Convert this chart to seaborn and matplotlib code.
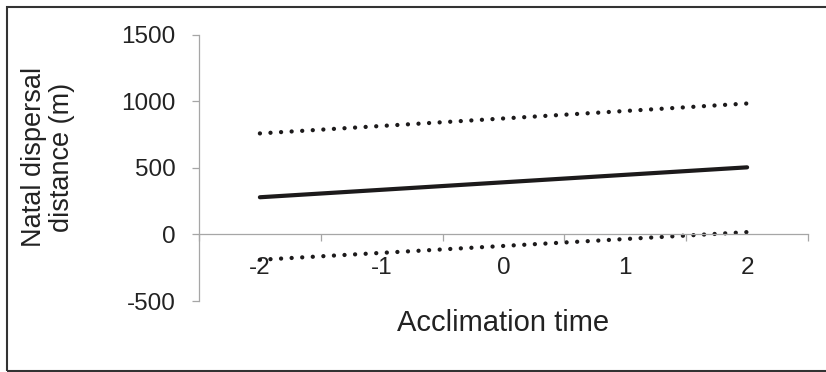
import matplotlib
matplotlib.use("Agg")
import matplotlib.pyplot as plt
import seaborn as sns
import pandas as pd
from matplotlib.patches import Rectangle

# Data
categories = [-2, -1, 0, 1, 2]
x_ends = [-2, 2]
fit_line = [280, 505]
upper_line = [760, 985]
lower_line = [-190, 18]
y_ticks = [-500, 0, 500, 1000, 1500]

sns.set_theme(style="white")
plt.rcParams['font.family'] = ['Liberation Sans', 'DejaVu Sans']

fig = plt.figure(figsize=(8.26, 3.72), dpi=100)
ax = fig.add_axes([199/826, 1-301/372, (808-199)/826, (301-35)/372])

df = pd.DataFrame({
    "x": x_ends * 3,
    "y": fit_line + upper_line + lower_line,
    "series": ["fit"] * 2 + ["upper"] * 2 + ["lower"] * 2,
})

dark = "#1c1a1b"
sns.lineplot(data=df[df.series == "fit"], x="x", y="y", ax=ax, color=dark,
             linewidth=3.0, solid_capstyle="round", legend=False)
for s in ["upper", "lower"]:
    sns.lineplot(data=df[df.series == s], x="x", y="y", ax=ax, color=dark,
                 linewidth=3.1, linestyle=(0, (0.01, 2.45)),
                 dash_capstyle="round", legend=False)

ax.set_xlim(-2.5, 2.5)
ax.set_ylim(-500, 1500)
ax.set_xlabel("")
ax.set_ylabel("")

gray = "#a6a6a6"
for sp in ["top", "right"]:
    ax.spines[sp].set_visible(False)
ax.spines["left"].set_color(gray)
ax.spines["bottom"].set_color(gray)
ax.spines["left"].set_linewidth(0.9)
ax.spines["bottom"].set_linewidth(0.9)
ax.spines["bottom"].set_position(("data", 0))

ax.set_yticks(y_ticks)
ax.set_yticklabels([str(v) for v in y_ticks])
ax.tick_params(axis="y", direction="out", length=5, width=0.9, color=gray,
               pad=12, labelsize=17.5, labelcolor="#222222", left=True)

ax.set_xticks(categories)
ax.set_xticklabels([str(c) for c in categories])
ax.set_xticks([c - 0.5 for c in categories] + [2.5], minor=True)
ax.tick_params(axis="x", which="major", length=0, pad=16, labelsize=17.5,
               labelcolor="#222222", bottom=True)
ax.tick_params(axis="x", which="minor", direction="out", length=5, width=0.9,
               color=gray, bottom=True)
ax.grid(False)

fig.text(503/826, 1-323/372, "Acclimation time", ha="center", va="center",
         fontsize=21, color="#222222")
fig.text(48/826, 1-157/372, "Natal dispersal\ndistance (m)", ha="center",
         va="center", rotation=90, fontsize=19.5, color="#222222", linespacing=1.12)

fig.patches.append(Rectangle((7/826, 1/372), 1.05, 1-7/372-1/372,
                             transform=fig.transFigure, fill=False,
                             edgecolor="#333333", linewidth=1.5))

fig.savefig("out.png", dpi=100)
